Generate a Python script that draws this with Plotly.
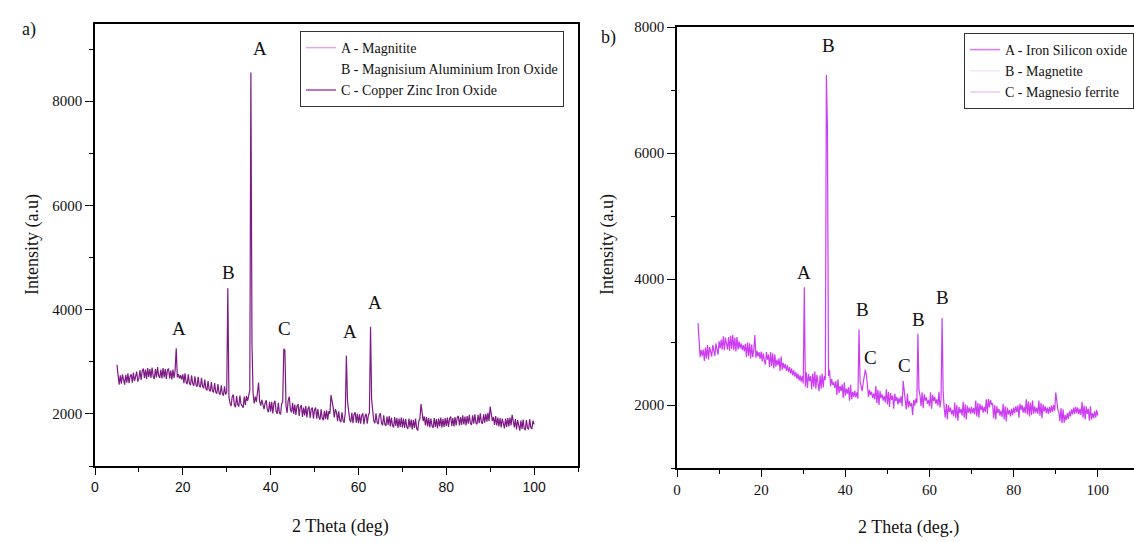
import plotly.graph_objects as go

# ---------------- data ----------------
# intensity sampled every 0.25 deg from 5 to 100 deg; one row = 5 deg
intensity_a = [
    2940, 2660, 2560, 2740, 2580, 2760, 2620, 2560, 2750, 2600, 2780, 2590, 2720, 2760, 2600, 2790, 2630, 2750, 2810, 2620,  # 5
    2680, 2840, 2650, 2820, 2870, 2690, 2850, 2670, 2880, 2710, 2860, 2690, 2890, 2720, 2670, 2860, 2700, 2900, 2730, 2690,  # 10
    2850, 2680, 2880, 2700, 2860, 2670, 2840, 2870, 2680, 2830, 2660, 2850, 2690, 2840, 3260, 2700, 2760, 2680, 2740, 2660,  # 15
    2760, 2590, 2780, 2610, 2570, 2760, 2590, 2550, 2740, 2580, 2540, 2720, 2560, 2520, 2710, 2540, 2510, 2690, 2530, 2490,  # 20
    2660, 2480, 2450, 2630, 2460, 2430, 2610, 2440, 2410, 2590, 2420, 2390, 2570, 2400, 2370, 2550, 2390, 2350, 2530, 2370,  # 25
    2420, 4410, 2330, 2200, 2150, 2330, 2370, 2170, 2130, 2340, 2180, 2140, 2350, 2190, 2150, 2120, 2330, 2170, 2340, 2250,  # 30
    2350, 2450, 8550, 3340, 2400, 2200, 2330, 2230, 2410, 2600, 2240, 2160, 2270, 2180, 2090, 2210, 2260, 2080, 2030, 2230,  # 35
    2040, 2230, 2010, 2200, 2250, 2050, 2000, 2210, 2020, 1990, 2190, 2230, 3250, 3220, 2150, 2020, 2260, 2330, 2080, 2030,  # 40
    2210, 2000, 2180, 1980, 2150, 2190, 1960, 2130, 2170, 1940, 2120, 1970, 2150, 1930, 2100, 2140, 1920, 2090, 2120, 1910,  # 45
    2080, 2120, 1910, 2090, 1930, 1890, 2090, 1920, 1880, 2060, 1900, 2070, 1890, 2050, 2000, 2360, 2250, 2120, 1930, 2090,  # 50
    2030, 1860, 2050, 1880, 1840, 2030, 1870, 1830, 2020, 3120, 2250, 2070, 1890, 1840, 2020, 1820, 1990, 2030, 1830, 2000,  # 55
    1820, 1990, 1810, 1970, 2010, 1800, 1960, 2000, 1810, 1970, 2020, 3670, 2280, 2060, 1860, 1820, 2010, 1840, 1800, 1980,  # 60
    2010, 1820, 1780, 1970, 1800, 1770, 1950, 1790, 1960, 1760, 1930, 1780, 1740, 1940, 1770, 1920, 1730, 1910, 1750, 1930,  # 65
    1740, 1910, 1730, 1900, 1750, 1710, 1910, 1740, 1890, 1700, 1880, 1730, 1910, 1720, 1680, 1860, 1910, 2190, 1990, 1860,  # 70
    1950, 1780, 1940, 1760, 1920, 1740, 1910, 1770, 1730, 1920, 1750, 1900, 1720, 1910, 1760, 1930, 1740, 1900, 1750, 1920,  # 75
    1770, 1930, 1750, 1910, 1950, 1770, 1920, 1760, 1940, 1780, 1930, 1960, 1780, 1940, 1790, 1970, 1800, 1950, 1780, 1960,  # 80
    1810, 1980, 1820, 1790, 1970, 1810, 1990, 1830, 1800, 1980, 1820, 2010, 1840, 1810, 1990, 1830, 2000, 1850, 2020, 1860,  # 85
    2140, 2010, 1860, 1940, 1790, 1960, 1780, 1930, 1760, 1920, 1740, 1910, 1770, 1720, 1910, 1750, 1920, 1760, 1930, 1780,  # 90
    1980, 1820, 1740, 1900, 1700, 1880, 1730, 1680, 1870, 1710, 1890, 1720, 1690, 1880, 1730, 1700, 1900, 1740, 1710, 1870,  # 95
    1800,  # 100
]

intensity_b = [
    3300, 3050, 2760, 2870, 2780, 2880, 2700, 2910, 2740, 2950, 2720, 2920, 2830, 2770, 2950, 2850, 2780, 2980, 2880, 2800,  # 5
    3010, 2900, 3040, 2880, 3090, 2870, 3070, 2970, 2880, 3080, 2860, 3100, 2890, 3110, 2870, 3070, 2850, 3080, 2880, 3010,  # 10
    2900, 2980, 2870, 2950, 2850, 2970, 2760, 2990, 2780, 2980, 2740, 2960, 2760, 2880, 3110, 2750, 2860, 2770, 2840, 2730,  # 15
    2850, 2690, 2820, 2710, 2640, 2840, 2720, 2800, 2600, 2840, 2620, 2820, 2580, 2800, 2610, 2720, 2630, 2740, 2540, 2770,  # 20
    2560, 2670, 2580, 2650, 2540, 2630, 2520, 2600, 2500, 2580, 2470, 2550, 2450, 2520, 2420, 2500, 2390, 2470, 2370, 2460,  # 25
    2340, 3870, 2290, 2520, 2270, 2490, 2380, 2460, 2250, 2500, 2290, 2530, 2260, 2480, 2280, 2220, 2470, 2260, 2500, 2280,  # 30
    2460, 2400, 7240, 6380, 2460, 2560, 2300, 2410, 2320, 2360, 2270, 2380, 2160, 2410, 2190, 2300, 2220, 2330, 2110, 2360,  # 35
    2150, 2260, 2180, 2280, 2070, 2320, 2090, 2210, 2130, 2230, 2120, 2200, 2100, 3200, 2380, 2290, 2220, 2350, 2440, 2560,  # 40
    2480, 2330, 2130, 2240, 2160, 2210, 2110, 2180, 2090, 2300, 2030, 2240, 2000, 2220, 2110, 2170, 2070, 2140, 2040, 2250,  # 45
    2010, 2210, 1970, 2190, 2080, 2150, 1940, 2180, 2060, 2130, 2010, 2110, 2030, 2140, 1980, 2380, 2150, 2070, 1930, 2180,  # 50
    1960, 2060, 1980, 2030, 1840, 2080, 1990, 2100, 2030, 3130, 2240, 2150, 1980, 2200, 1950, 2170, 2070, 2120, 2020, 2080,  # 55
    1980, 2200, 1940, 2160, 2060, 2130, 2020, 2090, 1990, 2210, 1960, 2090, 3380, 2200, 1950, 1800, 2020, 1770, 2000, 1890,  # 60
    1960, 1850, 1920, 1820, 2040, 1790, 2000, 1750, 1970, 1870, 1940, 1830, 2050, 1800, 2010, 1770, 1990, 1880, 1960, 1860,  # 65
    1970, 1870, 1950, 1850, 2070, 1820, 2030, 1800, 2020, 1920, 1990, 1880, 1970, 1890, 2090, 1860, 2100, 1960, 2080, 2010,  # 70
    2020, 1790, 2000, 1770, 1980, 1870, 1940, 1830, 1910, 1810, 2020, 1770, 1980, 1740, 1960, 1850, 1920, 1820, 1940, 1840,  # 75
    1960, 1870, 1980, 1890, 1990, 1800, 2020, 1920, 2000, 1880, 1970, 1870, 2090, 1850, 2060, 1820, 2040, 1840, 2070, 1860,  # 80
    1980, 1880, 1960, 1860, 2070, 1830, 2030, 1790, 2010, 1900, 1980, 1870, 1960, 1860, 1970, 1880, 1990, 1890, 2000, 1910,  # 85
    2200, 2040, 1930, 1880, 1740, 1950, 1710, 1930, 1720, 1840, 1760, 1870, 1780, 1900, 1820, 1930, 1850, 1960, 1860, 1970,  # 90
    1870, 1960, 1850, 1940, 1840, 2050, 1800, 1990, 1770, 1980, 1860, 1940, 1750, 1980, 1770, 1870, 1790, 1900, 1800, 1920,  # 95
    1830,  # 100
]

two_theta_a = [5 + 0.25 * i for i in range(len(intensity_a))]
two_theta_b = [5 + 0.25 * i for i in range(len(intensity_b))]

legend_a = ["A - Magnitite", "B - Magnisium Aluminium Iron Oxide", "C - Copper Zinc Iron Oxide"]
legend_b = ["A - Iron Silicon oxide", "B - Magnetite", "C - Magnesio ferrite"]
legend_a_colors = ["#dcaadc", "rgba(255,255,255,0)", "#a04aa8"]
legend_b_colors = ["#d77af0", "#f3e6f7", "#f2c4f2"]

peak_labels_a = ["A", "B", "A", "C", "A", "A"]
peak_label_x_a = [19.2, 30.4, 37.6, 43.2, 58.0, 63.7]
peak_label_y_a = [3630, 4720, 9010, 3630, 3590, 4130]

peak_labels_b = ["A", "B", "B", "C", "C", "B", "B"]
peak_label_x_b = [30.2, 36.0, 44.0, 46.0, 54.0, 57.4, 63.1]
peak_label_y_b = [4110, 7710, 3520, 2760, 2630, 3350, 3710]

color_a = "#7d1a85"
color_b = "#cb3cf2"

SERIF = "Liberation Serif"
SANS = "Liberation Sans"

fig = go.Figure()

fig.add_trace(go.Scatter(x=two_theta_a, y=intensity_a, mode="lines",
                         line=dict(color=color_a, width=1.2), showlegend=False,
                         xaxis="x", yaxis="y"))
fig.add_trace(go.Scatter(x=two_theta_b, y=intensity_b, mode="lines",
                         line=dict(color=color_b, width=1.2), showlegend=False,
                         xaxis="x2", yaxis="y2"))

for name, col in zip(legend_a, legend_a_colors):
    fig.add_trace(go.Scatter(x=[None], y=[None], mode="lines", name=name,
                             line=dict(color=col, width=1.5), legend="legend",
                             xaxis="x", yaxis="y"))
for name, col in zip(legend_b, legend_b_colors):
    fig.add_trace(go.Scatter(x=[None], y=[None], mode="lines", name=name,
                             line=dict(color=col, width=1.5), legend="legend2",
                             xaxis="x2", yaxis="y2"))

W, H = 1134, 542

def px_x(p):
    return p / W

def px_y(p):
    return 1 - p / H

axis_common = dict(showline=True, linecolor="black", linewidth=1.6, mirror=True,
                   ticks="outside", tickcolor="black", tickwidth=1.4, showgrid=False,
                   zeroline=False, automargin=False)

fig.update_layout(
    template="none",
    width=W, height=H,
    margin=dict(l=0, r=0, t=0, b=0, pad=0),
    paper_bgcolor="white", plot_bgcolor="white",
    xaxis=dict(**axis_common, domain=[px_x(95), px_x(578)], range=[0, 110],
               dtick=20, tick0=0, ticklen=7,
               minor=dict(dtick=10, ticklen=4, ticks="outside", tickcolor="black"),
               tickfont=dict(family=SANS, size=14, color="#111"), anchor="y"),
    yaxis=dict(**axis_common, domain=[px_y(466), px_y(24)], range=[1000, 9480],
               dtick=2000, tick0=0, ticklen=8,
               minor=dict(dtick=1000, ticklen=4, ticks="outside", tickcolor="black"),
               tickfont=dict(family=SERIF, size=15, color="#111"), anchor="x"),
    xaxis2=dict(**axis_common, domain=[px_x(677), 1.0], range=[0, 108.6],
                dtick=20, tick0=0, ticklen=7,
                minor=dict(dtick=10, ticklen=4, ticks="outside", tickcolor="black"),
                tickfont=dict(family=SERIF, size=15, color="#111"), anchor="y2"),
    yaxis2=dict(**axis_common, domain=[px_y(468), px_y(27)], range=[1000, 8000.5],
                dtick=2000, tick0=0, ticklen=8,
                minor=dict(dtick=1000, ticklen=4, ticks="outside", tickcolor="black"),
                tickfont=dict(family=SERIF, size=15, color="#111"), anchor="x2"),
    legend=dict(x=px_x(300), y=px_y(31), xanchor="left", yanchor="top",
                bgcolor="white", bordercolor="#333", borderwidth=1,
                font=dict(family=SERIF, size=14, color="#111"),
                tracegroupgap=0, itemwidth=30),
    legend2=dict(x=px_x(964), y=px_y(33), xanchor="left", yanchor="top",
                 bgcolor="white", bordercolor="#333", borderwidth=1,
                 font=dict(family=SERIF, size=14, color="#111"),
                 tracegroupgap=0, itemwidth=30),
)

annotations = []
for t, xv, yv in zip(peak_labels_a, peak_label_x_a, peak_label_y_a):
    annotations.append(dict(text=t, x=xv, y=yv, xref="x", yref="y", showarrow=False,
                            xanchor="center", yanchor="middle",
                            font=dict(family=SERIF, size=19, color="#111")))
for t, xv, yv in zip(peak_labels_b, peak_label_x_b, peak_label_y_b):
    annotations.append(dict(text=t, x=xv, y=yv, xref="x2", yref="y2", showarrow=False,
                            xanchor="center", yanchor="middle",
                            font=dict(family=SERIF, size=19, color="#111")))

def paper_text(text, x, y, angle=0, size=18):
    return dict(text=text, x=px_x(x), y=px_y(y), xref="paper", yref="paper",
                xanchor="center", yanchor="middle", textangle=angle, showarrow=False,
                font=dict(family=SERIF, size=size, color="#111"))

# axis titles & panel labels
annotations += [
    paper_text("Intensity (a.u)", 32, 245, -90),
    paper_text("2 Theta (deg)", 340, 526),
    paper_text("Intensity (a.u)", 607, 245, -90),
    paper_text("2 Theta (deg.)", 908, 527),
    paper_text("a)", 29, 29),
    paper_text("b)", 608, 38),
]
fig.update_layout(annotations=annotations)

fig.write_html("out.html")
